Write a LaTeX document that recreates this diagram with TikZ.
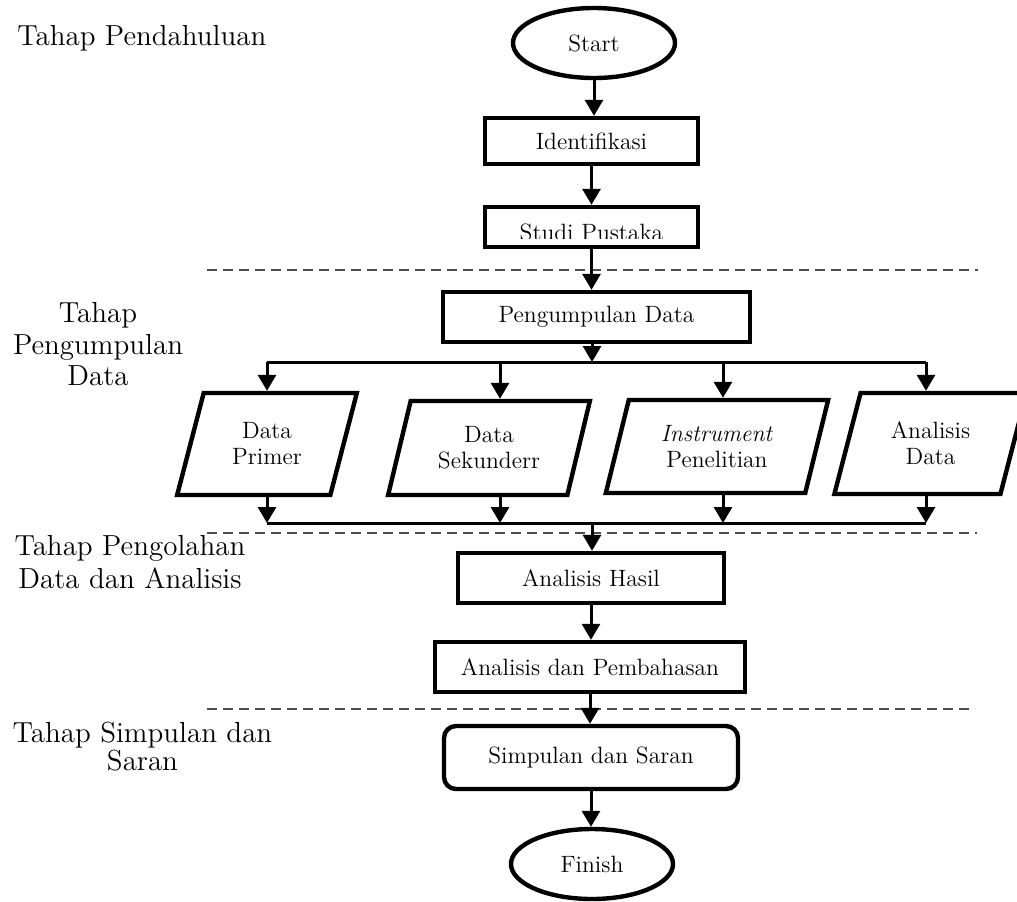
\documentclass[tikz,border=0pt]{standalone}
\usepackage{fontspec}
\usetikzlibrary{arrows.meta, shapes.geometric}

\begin{document}
\begin{tikzpicture}[
    x=0.5pt, y=-0.5pt,
    >={Triangle[length=8pt, width=9pt]},
    boxtext/.style={font=\fontsize{11.8}{13}\selectfont},
    procbox/.style={
      draw, line width=2.2pt, boxtext,
      inner sep=0pt, align=center},
    terminal/.style={
      draw, ellipse, line width=2.2pt, boxtext,
      minimum width=81pt, minimum height=35pt, inner sep=0pt},
    iobox/.style={
      draw, trapezium, trapezium left angle=71, trapezium right angle=109,
      trapezium stretches=true, line width=2.2pt, boxtext,
      inner sep=0pt, align=center},
    flow/.style={->, line width=1.5pt},
    bar/.style={line width=1.5pt},
    phase/.style={draw=black!70, line width=0.8pt, dash pattern=on 5pt off 3pt},
    phaselabel/.style={font=\fontsize{14.5}{16.5}\selectfont, inner sep=0pt, align=center},
]
\useasboundingbox (0,0) rectangle (1017,901);

% ---- phase separators ----
\coordinate (d1l) at (207,270); \coordinate (d1r) at (978,270);
\coordinate (d2l) at (207,533); \coordinate (d2r) at (977,533);
\coordinate (d3l) at (207,709); \coordinate (d3r) at (975,709);
\draw[phase] (d1l) -- (d1r);
\draw[phase] (d2l) -- (d2r);
\draw[phase] (d3l) -- (d3r);

% ---- phase labels ----
\node[phaselabel, anchor=base west] (lpend) at (17,45) {Tahap Pendahuluan};
\node[phaselabel, anchor=north] (lkump) at (98,302) {Tahap\\[-0.75pt]Pengumpulan\\[-0.75pt]Data};
\node[phaselabel, anchor=north] (lolah) at (130,535) {Tahap Pengolahan\\Data dan Analisis};
\node[phaselabel, anchor=north] (lsimp) at (142.5,722) {Tahap Simpulan dan\\[-2.5pt]Saran};

% ---- main column ----
\node[terminal] (start) at (594,43) {Start};
\node[procbox, minimum width=106.5pt, minimum height=23pt] (ident) at (591.5,141) {Identifikasi};
\node[procbox, minimum width=106.5pt, minimum height=20pt,
  path picture={
    \clip (path picture bounding box.north west)
      rectangle ([yshift=4.5pt]path picture bounding box.south east);
    \node[boxtext, anchor=base] at ([yshift=3.5pt]path picture bounding box.south) {Studi Pustaka};
  }] (studi) at (591.5,227) {};
\node[procbox, minimum width=153.5pt, minimum height=25pt] (kumpul) at (596.5,317) {Pengumpulan Data};

% ---- data sources ----
\node[iobox, minimum width=90pt, minimum height=51pt] (primer) at (267,444) {Data\\Primer};
\node[iobox, minimum width=101pt, minimum height=47pt] (sekunder) at (489,448) {Data\\Sekunderr};
\node[iobox, minimum width=111.5pt, minimum height=46.5pt] (instr) at (717,446.5) {\textit{Instrument}\\Penelitian};
\node[iobox, minimum width=96.5pt, minimum height=50.5pt] (anadata) at (930.5,443.5) {Analisis\\Data};

\node[procbox, minimum width=133pt, minimum height=25pt] (hasil) at (591,578) {Analisis Hasil};
\node[procbox, minimum width=155pt, minimum height=25pt] (bahas) at (590,667) {Analisis dan Pembahasan};
\node[procbox, rounded corners=6pt, minimum width=147pt, minimum height=31.5pt] (simpul) at (591,757.5) {Simpulan dan Saran};
\node[terminal] (finish) at (592,864) {Finish};

% ---- pendahuluan ----
\draw[flow] (start.south) -- (start.south |- ident.north);
\draw[flow] (ident) -- (studi);
\draw[flow] (studi.south) -- (studi.south |- kumpul.north);

% ---- split to the four sources ----
\coordinate (split) at (592,362);
\coordinate (t1) at (267,362);
\coordinate (t2) at (500,362);
\coordinate (t3) at (723,362);
\coordinate (t4) at (926,362);
\draw[flow] (split |- kumpul.south) -- (split);
\draw[bar] (t1) -- (t4);

% ---- merge back ----
\coordinate (merge) at (592,523);
\coordinate (b1) at (267,523);
\coordinate (b2) at (500,523);
\coordinate (b3) at (723,523);
\coordinate (b4) at (926,523);
\draw[bar] (b1) -- (b4);

\foreach \src/\n in {primer/1, sekunder/2, instr/3, anadata/4} {
  \draw[flow] (t\n) -- (t\n |- \src.north);
  \draw[flow] (t\n |- \src.south) -- (b\n);
}

% ---- pengolahan and simpulan ----
\draw[flow] (merge) -- (merge |- hasil.north);
\draw[flow] (hasil.south) -- (hasil.south |- bahas.north);
\draw[flow] (bahas.south) -- (bahas.south |- simpul.north);
\draw[flow] (simpul.south) -- (simpul.south |- finish.north);

\end{tikzpicture}
\end{document}
